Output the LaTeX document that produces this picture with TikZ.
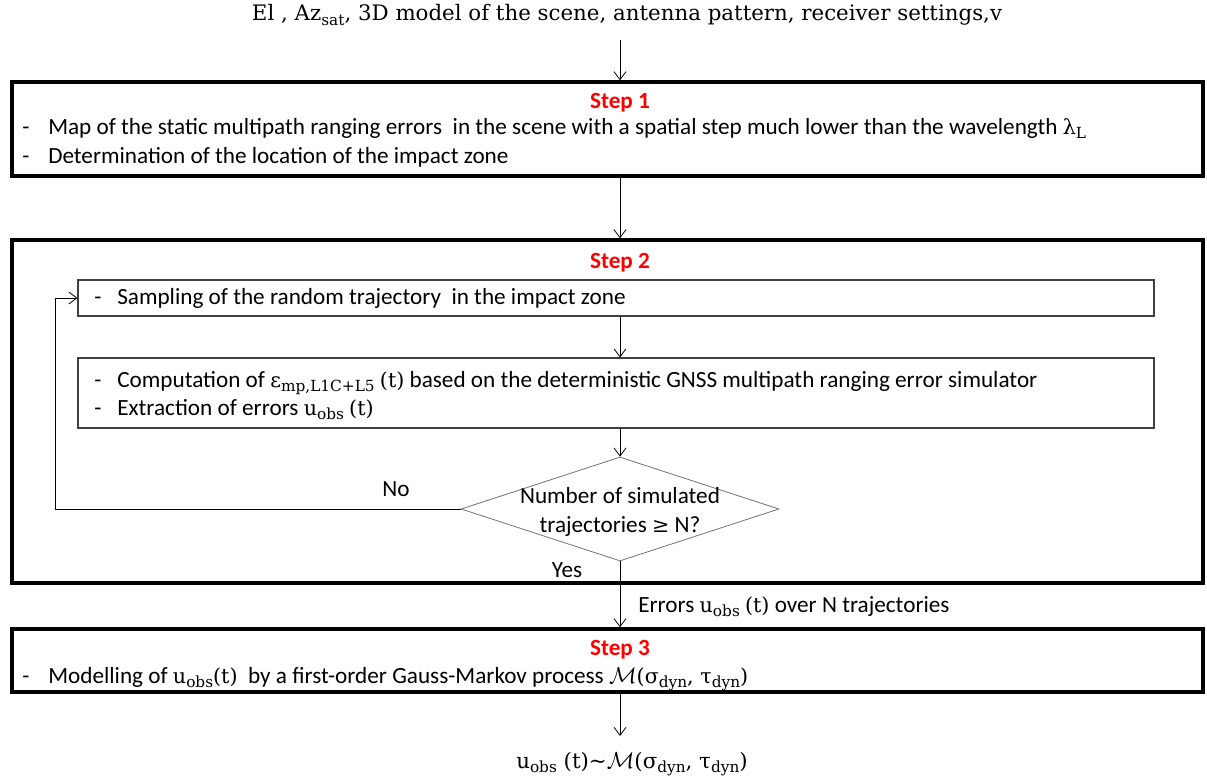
\documentclass[tikz,border=0pt]{standalone}
\usepackage{fontspec}
\setmainfont{Carlito}
\newfontfamily\serf{DejaVu Serif}
\usetikzlibrary{arrows.meta,shapes.geometric,fit}
\newcommand\lsub[1]{\raisebox{-0.4ex}{\fontsize{11.5}{12}\selectfont\serf #1}}
\newcommand\ser[1]{{\serf\fontsize{15.5}{16}\selectfont #1}}
\tikzset{
  stepbox/.style={draw=black, line width=2.6pt, inner sep=0pt},
  innerbox/.style={draw=black!75, line width=0.8pt, inner sep=0pt},
  decbox/.style={draw=black!55, line width=0.6pt, diamond, inner sep=0pt},
  arr/.style={-{Straight Barb[length=6pt,width=9pt]}, line width=0.6pt},
  txt/.style={font=\fontsize{17.4}{19}\selectfont, inner sep=0pt, text height=0.7em, text depth=0.2em, yshift=-2pt},
  steplbl/.style={txt, text=red, font=\fontsize{17.4}{19}\selectfont\bfseries},
  sertxt/.style={txt, font=\fontsize{16}{19}\selectfont\serf},
  dectxt/.style={font=\fontsize{17.4}{21.5}\selectfont, inner sep=0pt, align=center},
}
\begin{document}
\begin{tikzpicture}[x=0.75pt,y=-0.75pt]
\useasboundingbox (0,0) rectangle (1207,778);
\coordinate (cx) at (620,0);
\coordinate (lx) at (55,0);
% top input
\node[sertxt] (top) at (627,15) {El , Az\lsub{sat}, 3D model of the scene, antenna pattern, receiver settings,v};
\coordinate (a0) at (620,40);
% Step 1
\node[stepbox, fit={(12,82)(1203,176)}] (s1) {};
\node[steplbl] (s1l) at (620,102) {Step 1};
\node[txt, anchor=west] (s1d1) at (22,128) {-};
\node[txt, anchor=west] (s1t1) at (48,128) {Map of the static multipath ranging errors \ in the scene with a spatial step much lower than the wavelength \ser{λ}\lsub{L}};
\node[txt, anchor=west] (s1d2) at (22,157) {-};
\node[txt, anchor=west] (s1t2) at (48,157) {Determination of the location of the impact zone};
% Step 2
\node[stepbox, fit={(12,240)(1203,583)}] (s2) {};
\node[steplbl] (s2l) at (620,262) {Step 2};
\node[innerbox, fit={(78,280)(1154,316)}] (b1) {};
\node[txt, anchor=west] (b1d) at (94,298) {-};
\node[txt, anchor=west] (b1t) at (117,298) {Sampling of the random trajectory \ in the impact zone};
\node[innerbox, fit={(78,358)(1154,428)}] (b2) {};
\node[txt, anchor=west] (b2d1) at (94,381) {-};
\node[txt, anchor=west] (b2t1) at (117,381) {Computation of \ser{ε}\lsub{mp,L1C+L5} \ser{(t)} based on the deterministic GNSS multipath ranging error simulator};
\node[txt, anchor=west] (b2d2) at (94,409) {-};
\node[txt, anchor=west] (b2t2) at (117,409) {Extraction of errors \ser{u}\lsub{obs} \ser{(t)}};
\node[decbox, minimum width=238.5pt, minimum height=78pt] (dec) at (620,509) {};
\node[dectxt] (dect) at (620,512) {Number of simulated\\trajectories \ser{≥} N?};
\node[txt] (no) at (396,490) {No};
\node[txt] (yes) at (567,571) {Yes};
\node[txt, anchor=west] (err) at (638,606) {Errors \ser{u}\lsub{obs} \ser{(t)} over N trajectories};
% Step 3
\node[stepbox, fit={(12,629)(1203,692)}] (s3) {};
\node[steplbl] (s3l) at (620,649) {Step 3};
\node[txt, anchor=west] (s3d) at (22,677) {-};
\node[txt, anchor=west] (s3t) at (48,677) {Modelling of \ser{u}\lsub{obs}\ser{(t)} \ by a first-order Gauss-Markov process {\fontsize{16}{16}\selectfont$\mathcal{M}$}\ser{(σ\lsub{dyn}, τ\lsub{dyn})}};
\coordinate (a1) at (620,736);
\node[sertxt] (res) at (632,762) {u\lsub{obs} (t)\textasciitilde$\mathcal{M}$(σ\lsub{dyn}, τ\lsub{dyn})};
% connectors
\draw[arr] (a0) -- (s1.north -| cx);
\draw[arr] (s1.south -| cx) -- (s2.north -| cx);
\draw[arr] (b1.south -| cx) -- (b2.north -| cx);
\draw[arr] (b2.south -| cx) -- (dec.north);
\draw[arr] (dec.west) -- (dec.west -| lx) |- (b1.west);
\draw[arr] (dec.south) -- (s3.north -| cx);
\draw[arr] (s3.south -| cx) -- (a1);
\end{tikzpicture}
\end{document}
